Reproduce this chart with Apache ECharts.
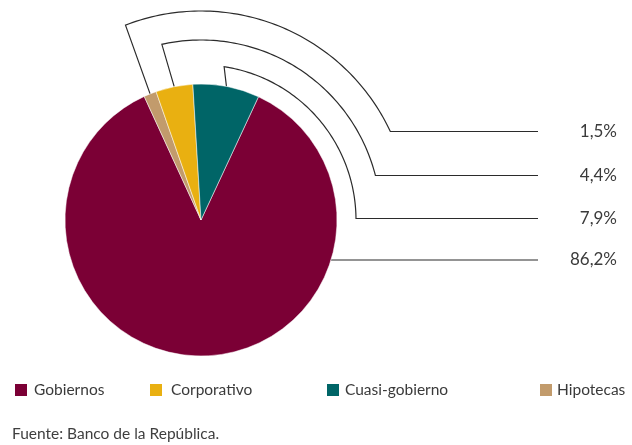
<!DOCTYPE html>
<html>
<head>
<meta charset="utf-8">
<script src="https://cdn.jsdelivr.net/npm/echarts@6/dist/echarts.min.js"></script>
<style>
  html, body { margin: 0; padding: 0; background: #ffffff; }
  #chart { width: 632px; height: 445px; }
</style>
</head>
<body>
<div id="chart"></div>
<script>
// Composición del portafolio por sector (porcentaje del total)
const categories = ['Gobiernos', 'Hipotecas', 'Corporativo', 'Cuasi-gobierno'];
const shares = [86.2, 1.5, 4.4, 7.9];
const legendOrder = ['Gobiernos', 'Corporativo', 'Cuasi-gobierno', 'Hipotecas'];
const sourceNote = 'Fuente: Banco de la República.';

const colors = {
  'Gobiernos': '#7b0035',
  'Hipotecas': '#c29b6c',
  'Corporativo': '#e9b011',
  'Cuasi-gobierno': '#006567'
};

// pie geometry (px)
const CX = 201, CY = 220, R = 136, START = 65;
// leader lines: arc radius around the pie, label row y, and small tilt of the elbow (deg)
const leader = {
  'Gobiernos':      { y: 260 },
  'Hipotecas':      { arc: 209, y: 131.5, tilt: 0.8 },
  'Corporativo':    { arc: 180, y: 175.5, tilt: -1.2 },
  'Cuasi-gobierno': { arc: 155, y: 218.5, tilt: -2.2 }
};
const LINE_END = 538, LABEL_X = 617;
const FONT = 'Lato, "Open Sans", sans-serif';

const total = shares.reduce((a, b) => a + b, 0);
// mid angle of each slice, degrees clockwise from 12 o'clock
const midAngles = [];
let acc = 90 - START;
shares.forEach(v => {
  const span = v / total * 360;
  midAngles.push(acc + span / 2);
  acc += span;
});

function pt(r, deg) {
  const a = deg * Math.PI / 180;
  return [CX + r * Math.sin(a), CY - r * Math.cos(a)];
}

function leaderPoints(i) {
  const L = leader[categories[i]];
  if (!L.arc) {
    const dy = L.y - CY;
    return [[CX + Math.sqrt(R * R - dy * dy), L.y], [LINE_END, L.y]];
  }
  let m = midAngles[i];
  if (m > 180) m -= 360;
  const pts = [pt(R, m)];
  const a0 = m + L.tilt;
  const a1 = Math.acos((CY - L.y) / L.arc) * 180 / Math.PI;
  const n = 80;
  for (let k = 0; k <= n; k++) pts.push(pt(L.arc, a0 + (a1 - a0) * k / n));
  pts.push([LINE_END, L.y]);
  return pts;
}

const chart = echarts.init(document.getElementById('chart'), null, { renderer: 'canvas' });

// legend entries are spread across the bottom row
const legendLeft = [13, 148, 325, 538];
const legendTextPad = [1, 3, 0, -1];

chart.setOption({
  animation: false,
  backgroundColor: '#ffffff',
  title: {
    text: sourceNote,
    left: 12,
    top: 426,
    padding: 0,
    textStyle: { fontFamily: FONT, fontSize: 15.5, fontWeight: 'normal', color: '#3f3f3f' }
  },
  legend: legendOrder.map((name, i) => ({
    data: [name],
    left: legendLeft[i],
    top: 382,
    padding: 0,
    icon: 'rect',
    itemWidth: 14,
    itemHeight: 14,
    selectedMode: false,
    textStyle: {
      fontFamily: FONT,
      fontSize: 15.5,
      color: '#3a3a3a',
      padding: [0, 0, 0, legendTextPad[i]]
    }
  })),
  series: [{
    type: 'pie',
    center: [CX, CY],
    radius: R,
    startAngle: START,
    clockwise: true,
    avoidLabelOverlap: false,
    silent: true,
    data: categories.map((name, i) => ({
      name: name,
      value: shares[i],
      itemStyle: { color: colors[name] }
    })),
    itemStyle: { borderColor: '#ffffff', borderWidth: 0.5 },
    label: {
      show: true,
      position: 'outside',
      formatter: p => p.value.toFixed(1).replace('.', ',') + '%',
      fontFamily: FONT,
      fontSize: 17,
      color: '#3b3b3b'
    },
    labelLine: {
      show: true,
      length: 10,
      length2: 10,
      lineStyle: { color: '#2b2b2b', width: 1.2 }
    },
    labelLayout: p => {
      const L = leader[categories[p.dataIndex]];
      return {
        x: LABEL_X,
        y: L.y,
        align: 'right',
        verticalAlign: 'middle',
        labelLinePoints: leaderPoints(p.dataIndex)
      };
    }
  }]
});
</script>
</body>
</html>
